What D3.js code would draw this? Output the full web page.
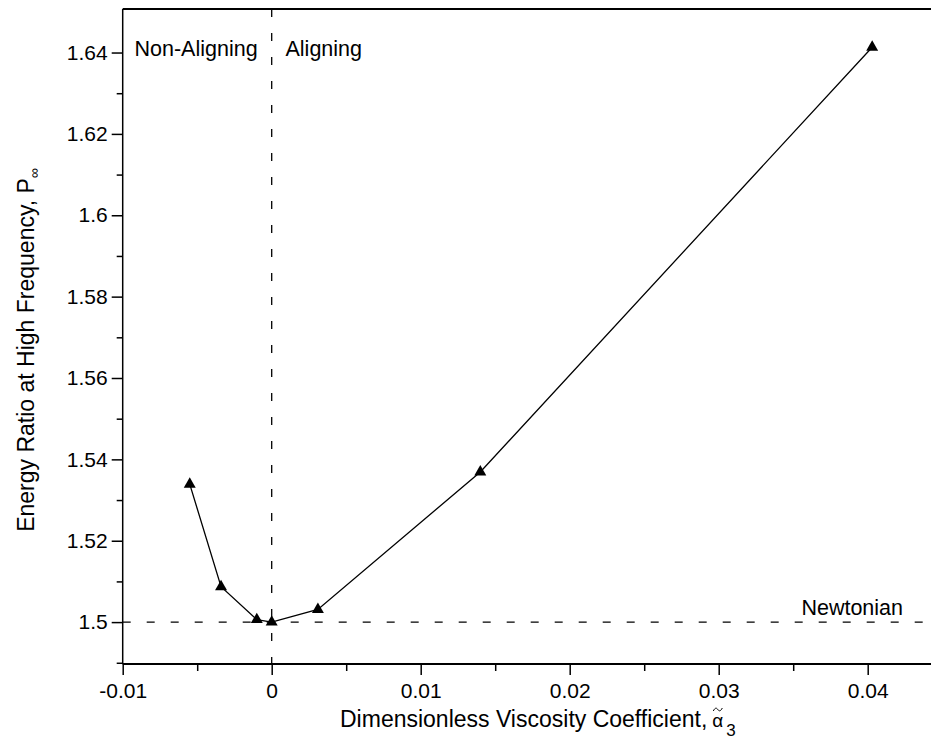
<!DOCTYPE html>
<html>
<head>
<meta charset="utf-8">
<script src="https://cdn.jsdelivr.net/npm/d3@7"></script>
<style>
  body { margin: 0; background: #fff; }
  text { font-family: "Liberation Sans", Arial, sans-serif; fill: #000; }
</style>
</head>
<body>
<div id="chart"></div>
<script>
// data
var alphaValues = [-0.0055, -0.0034, -0.001, 0, 0.0031, 0.014, 0.0403];
var energyRatio = [1.5339, 1.5087, 1.5006, 1.5, 1.5031, 1.5369, 1.6413];
var xTickValues = [-0.01, 0, 0.01, 0.02, 0.03, 0.04];
var xTickLabels = ["-0.01", "0", "0.01", "0.02", "0.03", "0.04"];
var yTickValues = [1.5, 1.52, 1.54, 1.56, 1.58, 1.6, 1.62, 1.64];
var yTickLabels = ["1.5", "1.52", "1.54", "1.56", "1.58", "1.6", "1.62", "1.64"];
var newtonianValue = 1.5;
var splitValue = 0;

var svgWidth = 931;
var svgHeight = 744;

var svg = d3.select("#chart")
    .append("svg")
    .attr("width", svgWidth)
    .attr("height", svgHeight);

var xScale = d3.scaleLinear()
    .domain([-0.01, 0.045])
    .range([122.7, 122.7 + 0.055 * 14900]);

var yScale = d3.scaleLinear()
    .domain([1.4897, 1.6507])
    .range([664, 9]);

var x0 = xScale.range()[0], x1 = xScale.range()[1];
var yB = yScale.range()[0], yT = yScale.range()[1];

// reference lines
svg.append("line")
    .attr("x1", x0).attr("x2", x1)
    .attr("y1", yScale(newtonianValue)).attr("y2", yScale(newtonianValue))
    .attr("stroke", "#000").attr("stroke-width", 1.3)
    .attr("stroke-dasharray", "8,16");

svg.append("line")
    .attr("x1", xScale(splitValue)).attr("x2", xScale(splitValue))
    .attr("y1", yT).attr("y2", yB)
    .attr("stroke", "#000").attr("stroke-width", 1.3)
    .attr("stroke-dasharray", "8,16");

// axes
var xAxis = d3.axisBottom(xScale)
    .tickValues(xTickValues)
    .tickFormat(function(d, i) { return xTickLabels[i]; })
    .tickSize(11).tickPadding(8);
var xMinor = d3.axisBottom(xScale)
    .tickValues(d3.range(-0.005, 0.045, 0.01))
    .tickFormat("").tickSize(7);

var yAxis = d3.axisLeft(yScale)
    .tickValues(yTickValues)
    .tickFormat(function(d, i) { return yTickLabels[i]; })
    .tickSize(11).tickPadding(4);
var yMinor = d3.axisLeft(yScale)
    .tickValues(d3.range(1.49, 1.645, 0.02))
    .tickFormat("").tickSize(6);

svg.append("g").attr("transform", `translate(0,${yB})`).call(xMinor);
var gx = svg.append("g").attr("transform", `translate(0,${yB})`).call(xAxis);
svg.append("g").attr("transform", `translate(${x0},0)`).call(yMinor);
var gy = svg.append("g").attr("transform", `translate(${x0},0)`).call(yAxis);

svg.selectAll(".domain").remove();
svg.selectAll(".tick line").attr("stroke", "#000").attr("stroke-width", 1.5);
svg.selectAll(".tick text").style("font-size", "21px")
    .style("font-family", "'Liberation Sans', Arial, sans-serif");

// frame
svg.append("line").attr("x1", x0).attr("x2", x1).attr("y1", yB).attr("y2", yB)
    .attr("stroke", "#000").attr("stroke-width", 2);
svg.append("line").attr("x1", x0).attr("x2", x1).attr("y1", yT).attr("y2", yT)
    .attr("stroke", "#000").attr("stroke-width", 2);
svg.append("line").attr("x1", x0).attr("x2", x0).attr("y1", yT).attr("y2", yB)
    .attr("stroke", "#000").attr("stroke-width", 1.5);

// data
var points = alphaValues.map(function(a, i) { return [a, energyRatio[i]]; });

svg.append("path")
    .datum(points)
    .attr("fill", "none")
    .attr("stroke", "#000")
    .attr("stroke-width", 1.3)
    .attr("d", d3.line().x(d => xScale(d[0])).y(d => yScale(d[1])));

svg.selectAll(".marker")
    .data(points)
    .enter()
    .append("path")
    .attr("class", "marker")
    .attr("d", d3.symbol().type(d3.symbolTriangle).size(62))
    .attr("transform", d => `translate(${xScale(d[0])},${yScale(d[1])})`)
    .attr("fill", "#000");

// annotations
svg.append("text").attr("x", 134.5).attr("y", 56).style("font-size", "21.5px").text("Non-Aligning");
svg.append("text").attr("x", 285.5).attr("y", 56).style("font-size", "21.5px").text("Aligning");
svg.append("text").attr("x", 903).attr("y", 615).attr("text-anchor", "end")
    .style("font-size", "21.5px").text("Newtonian");

// axis titles
var xt = svg.append("text").attr("x", 340).attr("y", 727).style("font-size", "23px");
xt.append("tspan").text("Dimensionless Viscosity Coefficient,");
xt.append("tspan").attr("dx", 5).style("font-size", "19px").text("\u03B1");
xt.append("tspan").attr("dx", 3).attr("dy", 9).style("font-size", "17px").text("3");

// small tilde drawn over the alpha
var baseLen = xt.node().getSubStringLength(0, 36);
var alphaLen = xt.node().getSubStringLength(36, 1);
var tx = 340 + baseLen + 5 + alphaLen / 2;
svg.append("path")
    .attr("d", `M${tx - 4.5},${711} C${tx - 2.5},${707} ${tx - 1},${708} ${tx},${709.5} S${tx + 2.5},${712} ${tx + 4.5},${708}`)
    .attr("fill", "none")
    .attr("stroke", "#000")
    .attr("stroke-width", 1);

var yt = svg.append("text")
    .attr("transform", "translate(34,350) rotate(-90)")
    .attr("text-anchor", "middle")
    .style("font-size", "23px");
yt.append("tspan").text("Energy Ratio at High Frequency, P");
yt.append("tspan").attr("dy", 5).style("font-size", "14px").text("\u221E");
</script>
</body>
</html>
